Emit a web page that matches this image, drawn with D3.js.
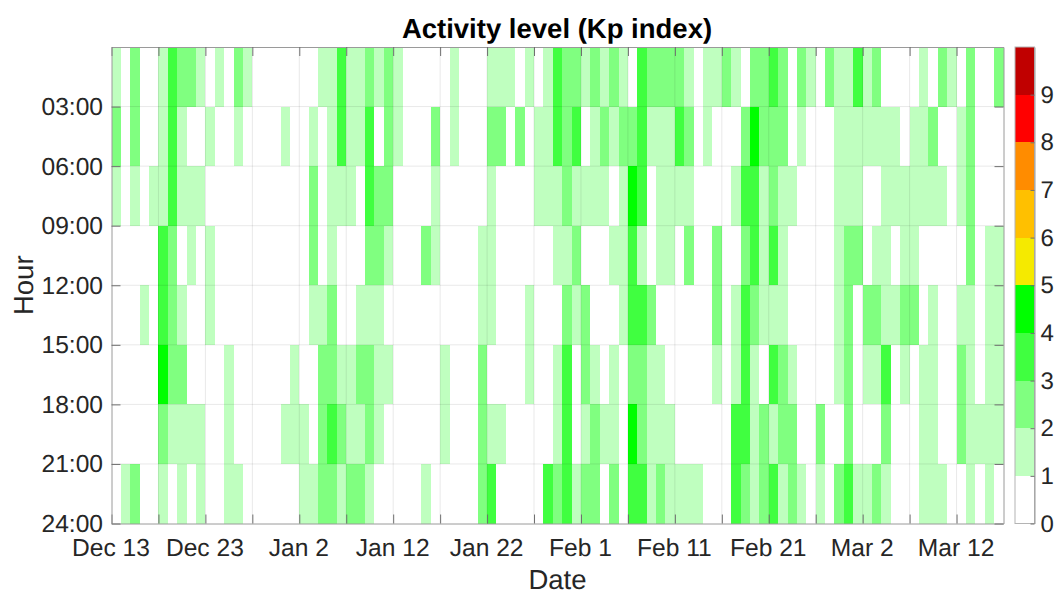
<!DOCTYPE html>
<html lang="en">
<head>
<meta charset="UTF-8">
<title>Activity level (Kp index)</title>
<script src="https://d3js.org/d3.v7.min.js"></script>
<style>
    html, body { margin: 0; padding: 0; background: #fff; }
    svg { display: block; }
    text { font-family: "Liberation Sans", Arial, sans-serif; fill: #262626; text-rendering: geometricPrecision; }
    .tick text { font-size: 24.6px; }
    .bar-axis .tick text { font-size: 24px; }
    .axis-label { font-size: 27.5px; }
    .chart-title { font-size: 27.5px; font-weight: bold; fill: #000; }
    .axis .domain { stroke: #9a9a9a; }
    .axis .tick line { stroke: #6e6e6e; }
    .grid line { stroke: #000; stroke-opacity: 0.09; }
</style>
</head>
<body>
<svg id="chart" width="1054" height="595"></svg>
<script>
// one list per 3 hour block, one Kp level per day, first day Dec 13
const kp00to03 = [1,0,2,0,0,1,3,2,2,1, 0,1,0,2,1,0,0,0,0,0, 0,0,1,1,3,1,1,2,1,2, 1,0,0,0,0,0,1,0,0,0, 1,1,1,0,1,0,1,3,2,2, 1,2,1,2,1,0,3,2,2,2, 2,1,0,1,1,2,1,0,2,2, 3,2,0,2,1,0,2,1,1,3, 1,2,0,0,0,0,1,0,2,1, 0,2,0,0,2];
const kp03to06 = [2,0,2,0,0,1,3,1,0,0, 1,0,0,1,0,0,0,0,1,0, 0,1,0,1,3,1,1,3,0,2, 1,0,0,0,2,0,1,0,0,0, 2,2,0,2,0,1,1,3,2,3, 0,1,2,1,2,2,3,1,1,1, 3,2,0,1,0,0,0,2,4,2, 2,2,0,1,0,0,0,1,1,1, 1,1,1,1,0,1,1,2,0,0, 1,2,0,0,0];
const kp06to09 = [1,0,1,0,1,1,3,1,1,1, 0,0,0,0,0,0,0,0,0,0, 0,2,0,1,1,1,0,3,2,2, 0,0,0,0,1,0,0,0,0,0, 1,0,0,0,0,1,1,1,2,1, 1,1,1,0,1,4,3,0,1,1, 1,1,0,0,0,0,1,3,3,1, 2,1,1,0,0,0,0,1,1,1, 0,0,1,1,1,1,1,1,1,0, 1,2,0,0,0];
const kp09to12 = [0,0,0,0,0,3,2,0,1,0, 1,0,0,0,0,0,0,0,0,0, 0,2,0,1,0,0,0,2,2,1, 0,0,0,2,1,0,0,0,0,1, 1,0,0,0,0,0,0,1,1,2, 0,0,0,1,1,3,1,0,1,1, 0,2,0,0,2,0,0,2,3,1, 3,1,0,0,0,0,0,1,2,2, 0,1,1,0,1,1,0,0,0,0, 0,2,0,1,1];
const kp12to15 = [0,0,0,1,0,3,2,1,0,0, 1,0,0,0,0,0,0,0,0,0, 0,1,1,2,0,0,1,1,1,0, 0,0,0,0,0,0,0,0,0,1, 1,0,0,0,1,0,0,0,2,1, 2,0,0,0,1,3,3,2,0,0, 0,0,0,0,2,0,1,3,2,1, 1,1,0,0,0,0,0,1,2,0, 2,2,1,1,2,2,0,1,0,0, 1,1,0,1,1];
const kp15to18 = [0,0,0,0,0,4,2,2,0,0, 0,0,1,0,0,0,0,0,0,1, 0,0,2,2,1,1,2,2,1,1, 0,0,0,0,0,1,0,0,0,2, 0,0,0,0,1,0,0,1,3,0, 2,1,0,1,0,2,2,1,1,0, 0,0,0,0,1,0,1,3,1,0, 3,2,1,0,0,0,0,1,2,0, 1,1,3,0,1,0,1,1,0,0, 2,1,0,1,1];
const kp18to21 = [0,0,0,0,0,2,1,1,1,1, 0,0,1,0,0,0,0,0,1,1, 1,0,2,3,2,1,1,2,1,0, 0,0,0,0,0,1,0,0,0,2, 1,1,0,0,0,0,0,1,3,0, 1,2,1,1,0,4,2,1,1,1, 0,0,0,0,0,0,3,3,1,2, 1,2,2,0,0,2,0,0,2,0, 0,0,2,0,0,0,1,1,0,0, 2,1,1,1,1];
const kp21to24 = [0,1,2,0,0,1,0,1,0,1, 0,0,1,1,0,0,0,0,0,0, 1,1,2,2,1,2,2,1,0,0, 0,0,0,1,0,0,0,0,0,2, 3,0,0,0,0,0,3,2,3,1, 2,2,0,2,0,3,3,1,2,1, 1,1,1,0,0,0,3,2,1,2, 3,1,2,1,0,1,0,2,3,1, 1,2,1,0,0,0,1,1,1,0, 0,1,0,1,0];
const kpBlocks = [kp00to03, kp03to06, kp06to09, kp09to12, kp12to15, kp15to18, kp18to21, kp21to24];

const hourLabels = ["03:00", "06:00", "09:00", "12:00", "15:00", "18:00", "21:00", "24:00"];
const dateLabels = ["Dec 13", "Dec 23", "Jan 2", "Jan 12", "Jan 22", "Feb 1", "Feb 11", "Feb 21", "Mar 2", "Mar 12"];
const kpLevels = [0, 1, 2, 3, 4, 5, 6, 7, 8, 9];
const kpColors = ["#ffffff", "#bfffbf", "#80ff80", "#40ff40", "#00ff00", "#f5ea00", "#ffc000", "#ff8c00", "#ff0000", "#c00000"];

const plot = { left: 111.5, right: 1003.5, top: 47, bottom: 523.5 };
const bar = { left: 1015, right: 1034.5 };

const svg = d3.select("#chart");
const color = d3.scaleOrdinal().domain(kpLevels).range(kpColors);

const day = i => new Date(Date.UTC(2019, 11, 13 + i));
const nDays = kp00to03.length;

const x = d3.scaleUtc().domain([day(0), day(nDays)]).range([plot.left, plot.right]);
const y = d3.scaleLinear().domain([0, 24]).range([plot.top, plot.bottom]);
const yBar = d3.scaleLinear().domain([0, 10]).range([plot.bottom, plot.top]);

// cells
svg.append("g").selectAll("g")
    .data(kpBlocks)
    .enter().append("g")
    .each(function (values, row) {
        d3.select(this).selectAll("rect")
            .data(values)
            .enter().append("rect")
            .attr("x", (d, i) => x(day(i)))
            .attr("width", (d, i) => x(day(i + 1)) - x(day(i)))
            .attr("y", y(row * 3))
            .attr("height", y((row + 1) * 3) - y(row * 3))
            .attr("fill", d => color(d))
            .attr("shape-rendering", "crispEdges");
    });

const hourTicks = d3.range(3, 27, 3);
const dateTicks = d3.range(0, nDays, 5).map(day);
const dateLabel = t => {
    const i = dateTicks.findIndex(d => +d === +t);
    return i % 2 === 0 ? dateLabels[i / 2] : "";
};

// grid sits over the cells
const grid = svg.append("g").attr("class", "grid");
grid.selectAll(".v").data(dateTicks.slice(1)).enter().append("line")
    .attr("x1", d => x(d)).attr("x2", d => x(d))
    .attr("y1", plot.top).attr("y2", plot.bottom);
grid.selectAll(".h").data(hourTicks.slice(0, -1)).enter().append("line")
    .attr("x1", plot.left).attr("x2", plot.right)
    .attr("y1", d => y(d)).attr("y2", d => y(d));

// axes, ticks point inward like the original
const xAxis = svg.append("g").attr("class", "axis")
    .attr("transform", `translate(0,${plot.bottom})`)
    .call(d3.axisBottom(x).tickValues(dateTicks).tickFormat(dateLabel).tickSize(-9).tickSizeOuter(0).tickPadding(15));
xAxis.selectAll(".tick text").attr("dx", -1);

svg.append("g").attr("class", "axis")
    .attr("transform", `translate(0,${plot.top})`)
    .call(d3.axisTop(x).tickValues(dateTicks).tickFormat("").tickSize(-9).tickSizeOuter(0));

svg.append("g").attr("class", "axis")
    .attr("transform", `translate(${plot.left},0)`)
    .call(d3.axisLeft(y).tickValues(hourTicks).tickFormat((d, i) => hourLabels[i]).tickSize(-9).tickSizeOuter(0).tickPadding(8.5));

svg.append("g").attr("class", "axis")
    .attr("transform", `translate(${plot.right},0)`)
    .call(d3.axisRight(y).tickValues(hourTicks).tickFormat("").tickSize(-9).tickSizeOuter(0));

// colour bar
svg.append("g").selectAll("rect")
    .data(kpLevels)
    .enter().append("rect")
    .attr("x", bar.left)
    .attr("width", bar.right - bar.left)
    .attr("y", d => yBar(d + 1))
    .attr("height", d => yBar(d) - yBar(d + 1))
    .attr("fill", d => color(d))
    .attr("shape-rendering", "crispEdges");

svg.append("rect")
    .attr("x", bar.left).attr("y", plot.top)
    .attr("width", bar.right - bar.left).attr("height", plot.bottom - plot.top)
    .attr("fill", "none").attr("stroke", "#b4b4b4");

const barAxis = svg.append("g").attr("class", "axis bar-axis")
    .attr("transform", `translate(${bar.right},0)`)
    .call(d3.axisRight(yBar).tickValues(kpLevels).tickFormat(d3.format("d")).tickSize(-4).tickSizeOuter(0).tickPadding(6));
barAxis.select(".domain").attr("stroke", "none");

// titles
svg.append("text").attr("class", "chart-title")
    .attr("x", (plot.left + plot.right) / 2 - 0.5).attr("y", 38)
    .attr("text-anchor", "middle").text("Activity level (Kp index)");

svg.append("text").attr("class", "axis-label")
    .attr("x", (plot.left + plot.right) / 2).attr("y", 589)
    .attr("text-anchor", "middle").text("Date");

svg.append("text").attr("class", "axis-label")
    .attr("transform", `translate(33,${(plot.top + plot.bottom) / 2}) rotate(-90)`)
    .attr("text-anchor", "middle").text("Hour");
</script>
</body>
</html>
